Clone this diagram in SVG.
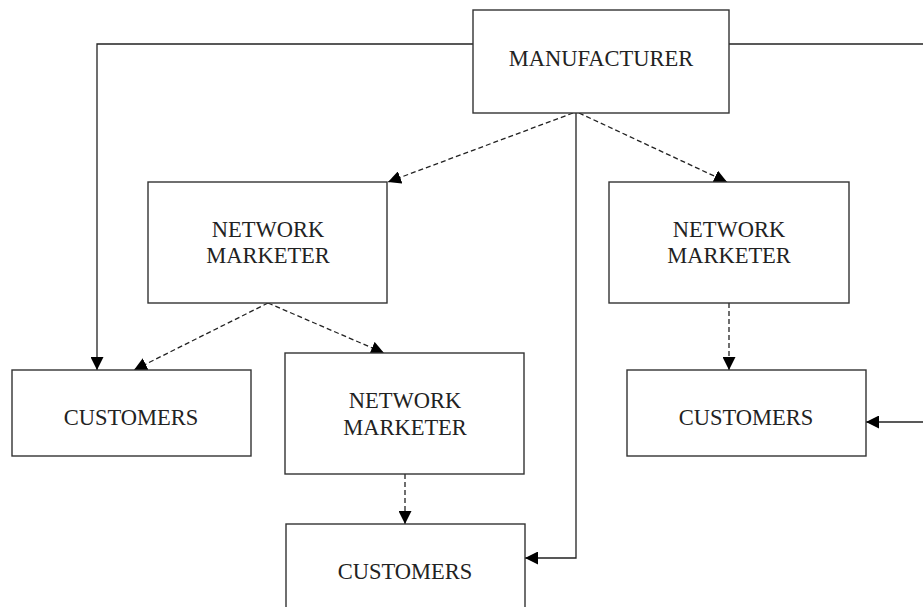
<svg xmlns="http://www.w3.org/2000/svg" width="923" height="607" viewBox="0 0 923 607">
<style>
.box{fill:#fff;stroke:#333;stroke-width:1.4}
.t{font-family:"Liberation Serif","Times New Roman",serif;font-size:22.5px;fill:#222;text-anchor:middle}
.c{fill:none;stroke:#222;stroke-width:1.3}
.d{stroke-dasharray:5,3}
</style>
<defs>
<marker id="ah" viewBox="0 0 10 10" refX="10" refY="5" markerWidth="13" markerHeight="13" markerUnits="userSpaceOnUse" orient="auto">
<path d="M0,0 L10,5 L0,10 Z" fill="#000"/>
</marker>
</defs>
<rect width="923" height="607" fill="#fff"/>
<g id="connectors">
<polyline class="c" points="473,44 97,44 97,370" marker-end="url(#ah)"/>
<line class="c" x1="729" y1="44" x2="923" y2="44"/>
<polyline class="c" points="576,113 576,558 525,558" marker-end="url(#ah)"/>
<line class="c d" x1="573" y1="113" x2="388" y2="182" marker-end="url(#ah)"/>
<line class="c d" x1="579" y1="113" x2="727" y2="182" marker-end="url(#ah)"/>
<line class="c d" x1="268" y1="303" x2="134" y2="370" marker-end="url(#ah)"/>
<line class="c d" x1="268" y1="303" x2="384" y2="353" marker-end="url(#ah)"/>
<line class="c d" x1="405" y1="474" x2="405" y2="524" marker-end="url(#ah)"/>
<line class="c d" x1="729" y1="303" x2="729" y2="370" marker-end="url(#ah)"/>
<line class="c" x1="923" y1="422" x2="866" y2="422" marker-end="url(#ah)"/>
</g>
<g id="manufacturer">
<rect class="box" x="473" y="10" width="256" height="103"/>
<text class="t" x="601" y="66">MANUFACTURER</text>
</g>
<g id="nm-left">
<rect class="box" x="148" y="182" width="239" height="121"/>
<text class="t" x="268" y="237">NETWORK</text>
<text class="t" x="268" y="263">MARKETER</text>
</g>
<g id="nm-right">
<rect class="box" x="609" y="182" width="240" height="121"/>
<text class="t" x="729" y="237">NETWORK</text>
<text class="t" x="729" y="263">MARKETER</text>
</g>
<g id="customers-left">
<rect class="box" x="12" y="370" width="239" height="86"/>
<text class="t" x="131" y="425">CUSTOMERS</text>
</g>
<g id="nm-middle">
<rect class="box" x="285" y="353" width="239" height="121"/>
<text class="t" x="405" y="408">NETWORK</text>
<text class="t" x="405" y="435">MARKETER</text>
</g>
<g id="customers-right">
<rect class="box" x="627" y="370" width="239" height="86"/>
<text class="t" x="746" y="425">CUSTOMERS</text>
</g>
<g id="customers-bottom">
<rect class="box" x="286" y="524" width="239" height="100"/>
<text class="t" x="405" y="579">CUSTOMERS</text>
</g>
</svg>
